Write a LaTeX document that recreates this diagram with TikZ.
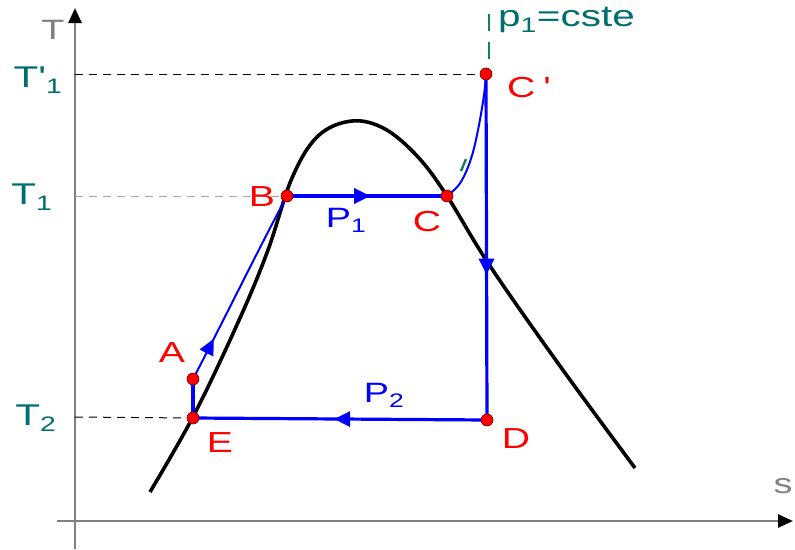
\documentclass[tikz,border=0pt]{standalone}
\usepackage{fontspec}
\setmainfont{Liberation Sans}
\newfontfamily\widefont[FakeStretch=1.35]{Liberation Sans}
\usetikzlibrary{arrows.meta,decorations.markings}
\definecolor{teal1}{RGB}{0,110,110}
\definecolor{axisgray}{RGB}{128,128,128}
\definecolor{ptred}{RGB}{255,0,0}
\definecolor{cycblue}{RGB}{0,0,255}
\definecolor{tickgreen}{RGB}{20,130,80}
\tikzset{
  axis/.style={axisgray,line width=2.6pt,-{Triangle[length=15pt,width=13pt,fill=black,color=black]}},
  guide/.style={line width=1pt,dash pattern=on 8pt off 6pt},
  cyc/.style={cycblue,line width=3.2pt},
  cycthin/.style={cycblue,line width=2pt},
  midarrow/.style={postaction={decorate,decoration={markings,mark=at position #1 with {\arrow{Triangle[length=16pt,width=15pt]}}}}},
  bell/.style={black,line width=3.6pt},
  ptdot/.style={circle,fill=ptred,draw=black!60!red,line width=0.6pt,inner sep=0pt,minimum size=12pt},
  plab/.style={ptred,font=\widefont\fontsize{29}{29}\selectfont,inner sep=0pt},
  tlab/.style={teal1,font=\widefont\fontsize{30}{30}\selectfont,inner sep=0pt},
  blab/.style={cycblue,font=\widefont\fontsize{28}{28}\selectfont,inner sep=0pt},
  glab/.style={axisgray,font=\widefont\fontsize{28}{28}\selectfont,inner sep=0pt},
}
\begin{document}
\begin{tikzpicture}[x=1pt,y=-1pt]
\useasboundingbox (0,0) rectangle (795,549);
% axes
\coordinate (o1) at (75,549);
\coordinate (ytop) at (75,8);
\coordinate (o2) at (57,521);
\coordinate (xend) at (793,521);
\draw[axis] (o1) -- (ytop);
\draw[axis] (o2) -- (xend);
\node[glab] (Tax) at (53,30) {T};
\node[glab] (sax) at (783,486) {s};
% points
\coordinate (Cp) at (486,74);
\coordinate (B) at (287,196);
\coordinate (C) at (447,196);
\coordinate (A) at (193,379);
\coordinate (E) at (193,418);
\coordinate (D) at (487,420);
\coordinate (yCp) at (75,74);
\coordinate (yB) at (75,196);
\coordinate (yE) at (75,417);
% guide lines
\draw[guide,black] (yCp) -- (Cp);
\draw[guide,black!35] (yB) -- (B);
\draw[guide,black] (yE) -- (E);
% bell curve
\draw[bell] plot[smooth,tension=0.6] coordinates {(150,492) (195,413) (240,318) (268,250) (292,178) (318,136) (352,121) (385,129) (418,157) (447,196) (490,266) (560,366) (635,468)};
% cycle
\draw[cyc,midarrow=0.58] (Cp) -- (D);
\draw[cyc,midarrow=0.52] (D) -- (E);
\draw[cyc,midarrow=0.52] (B) -- (C);
\draw[cyc] (E) -- (A);
\draw[cycthin,midarrow=0.22] (A) .. controls (228,312) and (262,242) .. (B);
\draw[cycthin] plot[smooth,tension=0.6] coordinates {(447,196) (458,186) (466,172) (473,152) (479,125) (484,95) (486,76)};
\draw[tickgreen,line width=2.4pt] (461,171) -- (466,159);
% dots
\foreach \p in {Cp,B,C,A,E,D} \node[ptdot] at (\p) {};
% labels
\node[plab,anchor=west] (lCp) at (507,88) {C\hspace{8pt}'};
\node[plab] (lB) at (262,197) {B};
\node[plab] (lC) at (427,222) {C};
\node[plab] (lA) at (172,353) {A};
\node[plab] (lE) at (220,443) {E};
\node[plab] (lD) at (516,439) {D};
\node[blab] (lP1) at (346,220) {P\textsubscript{1}};
\node[blab] (lP2) at (384,395) {P\textsubscript{2}};
\node[tlab] (lT1p) at (38,80) {T'\textsubscript{1}};
\node[tlab] (lT1) at (32,197) {T\textsubscript{1}};
\node[tlab] (lT2) at (36,418) {T\textsubscript{2}};
\node[tlab,anchor=west,font=\widefont\fontsize{30}{30}\selectfont] (lp1) at (498,20) {p\textsubscript{1}=cste};
\draw[tickgreen,line width=2.6pt] (489,14) -- (489,31);
\draw[tickgreen,line width=2.6pt] (489,42) -- (489,59);
\end{tikzpicture}
\end{document}
